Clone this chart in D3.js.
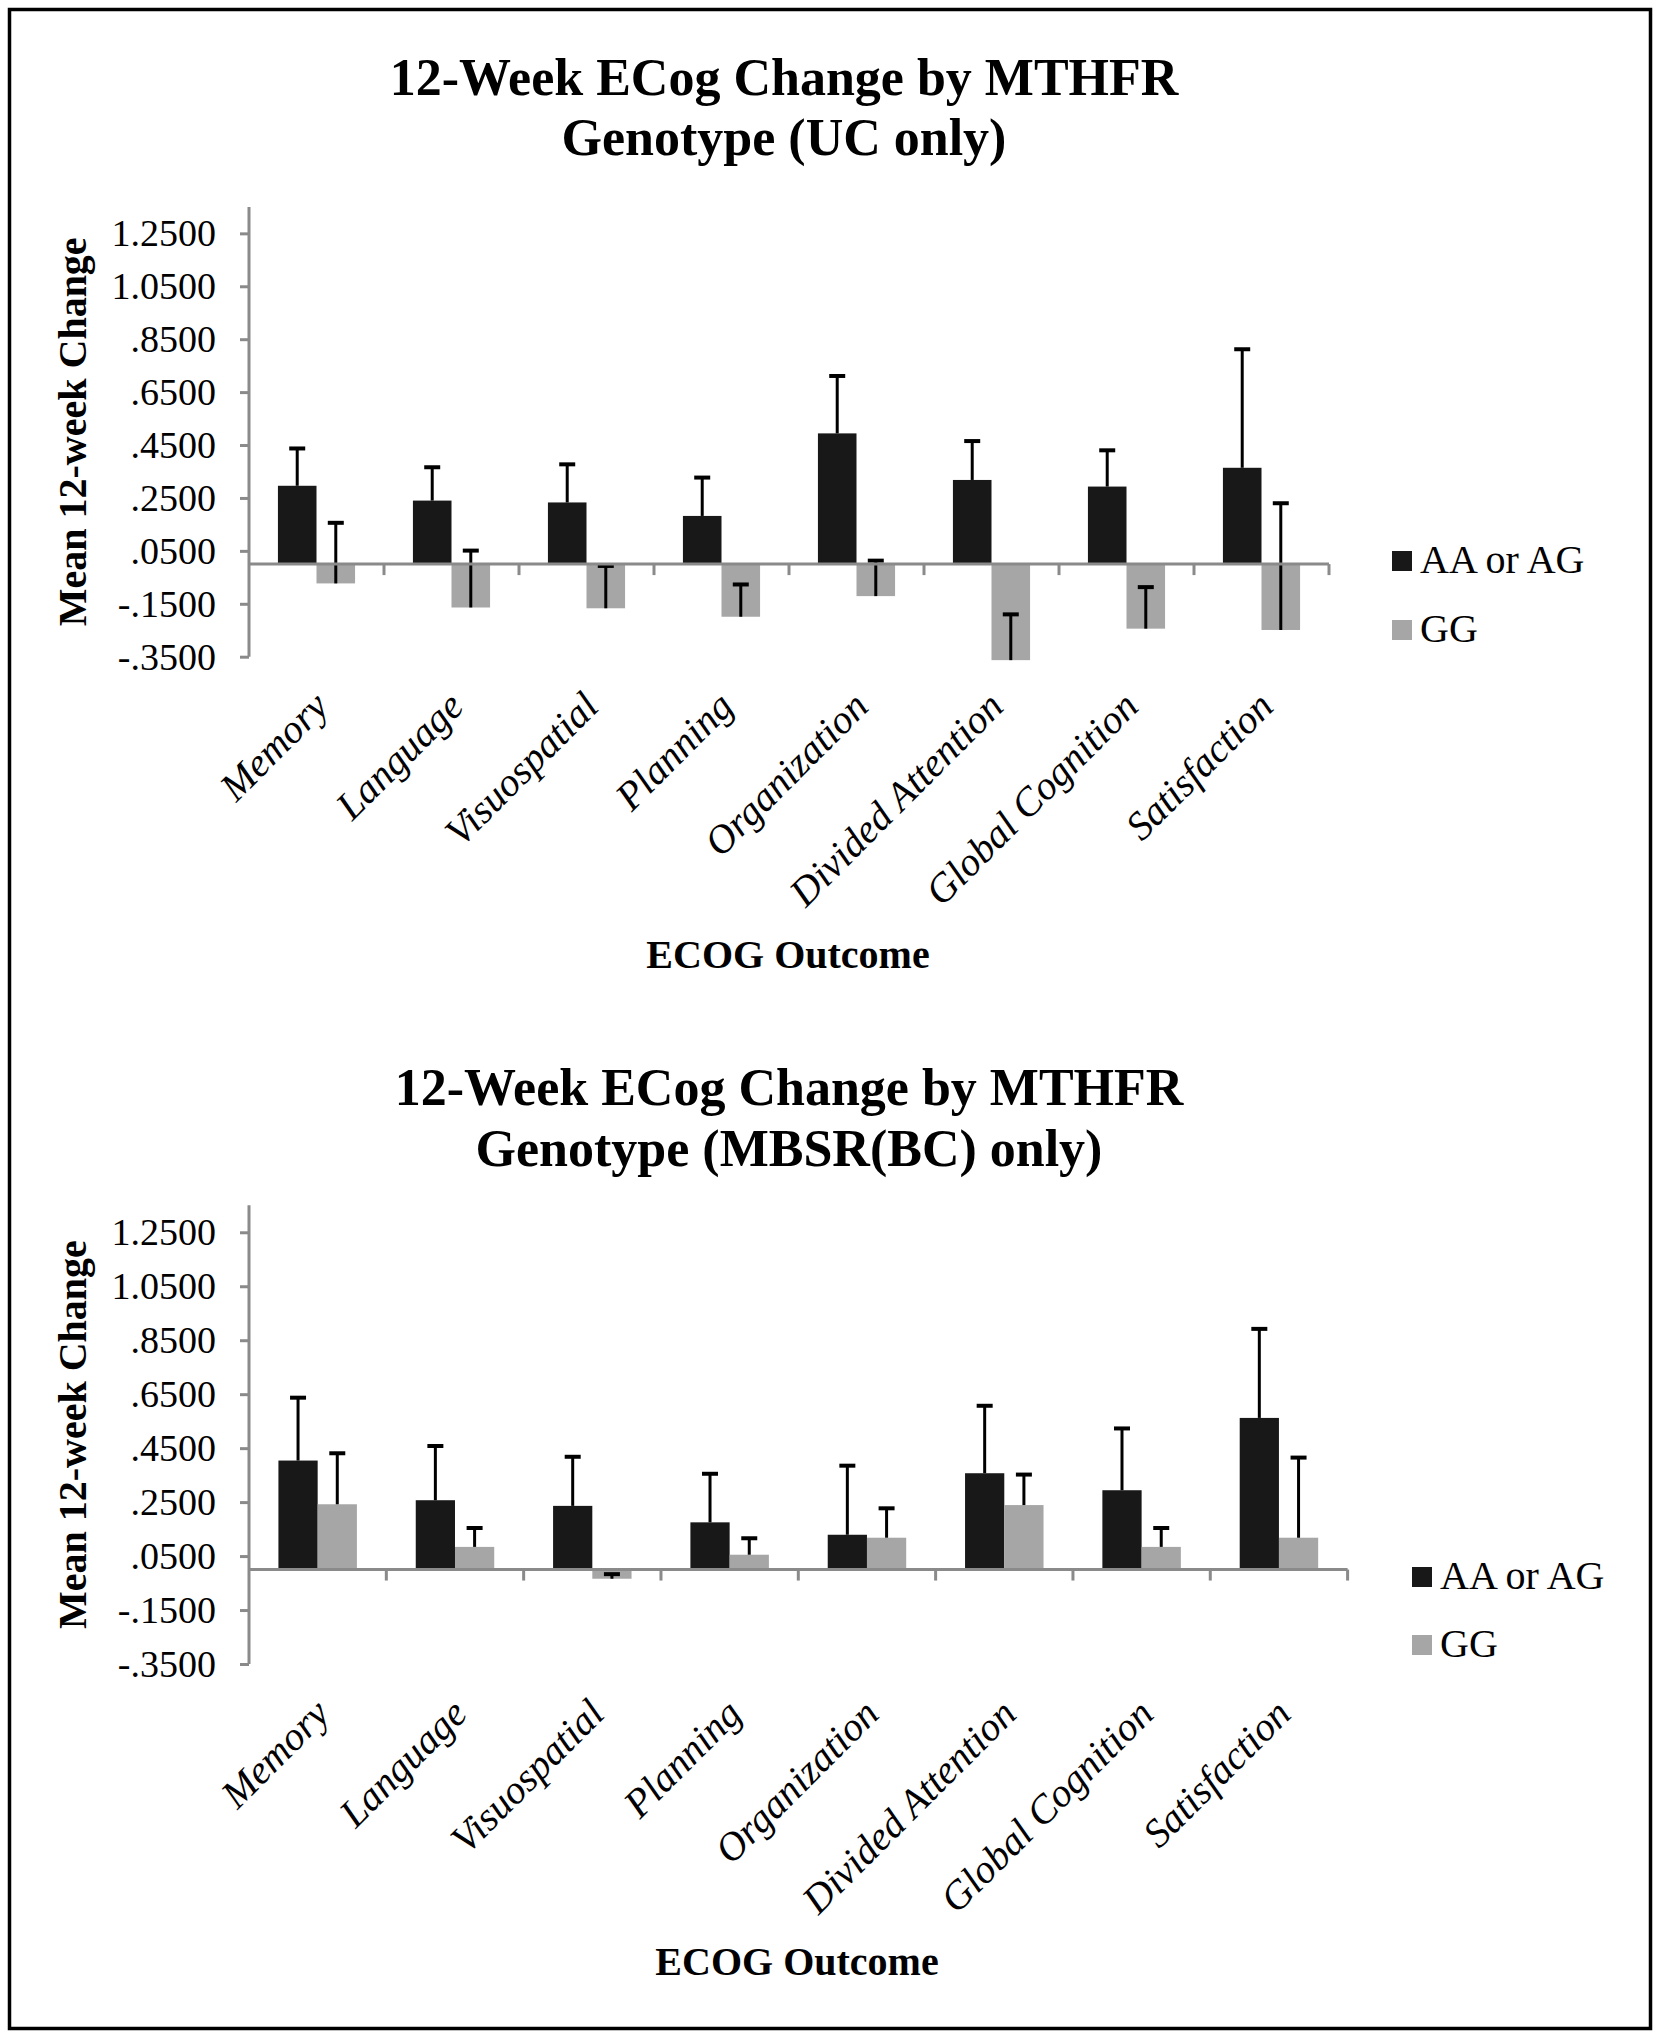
<!DOCTYPE html>
<html>
<head>
<meta charset="utf-8">
<script src="https://cdn.jsdelivr.net/npm/d3@7"></script>
<style>
  html, body { margin: 0; padding: 0; background: #fff; }
  svg { display: block; }
  text { font-family: "Liberation Serif", "Times New Roman", serif; fill: #000; }
</style>
</head>
<body>
<svg id="chart" width="1660" height="2040"></svg>
<script>
// ---------------- data ----------------
const categories = ["Memory", "Language", "Visuospatial", "Planning", "Organization",
                    "Divided Attention", "Global Cognition", "Satisfaction"];
const seriesNames = ["AA or AG", "GG"];
const yTickValues = [1.25, 1.05, 0.85, 0.65, 0.45, 0.25, 0.05, -0.15, -0.35];
const yTickLabels = ["1.2500", "1.0500", ".8500", ".6500", ".4500", ".2500", ".0500", "-.1500", "-.3500"];
const yDomain = [-0.35, 1.35];

// Panel 1: UC only
const ucTitle = ["12-Week ECog Change by MTHFR", "Genotype (UC only)"];
const ucAA    = [0.296, 0.240, 0.233, 0.182, 0.494, 0.318, 0.293, 0.364];
const ucAAErr = [0.141, 0.126, 0.144, 0.145, 0.217, 0.147, 0.137, 0.448];
const ucGG    = [-0.073, -0.164, -0.167, -0.199, -0.121, -0.363, -0.244, -0.249];
const ucGGErr = [0.229, 0.215, 0.160, 0.122, 0.134, 0.173, 0.157, 0.479];

// Panel 2: MBSR(BC) only
const mbTitle = ["12-Week ECog Change by MTHFR", "Genotype (MBSR(BC) only)"];
const mbAA    = [0.404, 0.257, 0.236, 0.175, 0.129, 0.357, 0.294, 0.562];
const mbAAErr = [0.233, 0.201, 0.182, 0.180, 0.256, 0.250, 0.229, 0.330];
const mbGG    = [0.242, 0.084, -0.034, 0.055, 0.118, 0.239, 0.084, 0.118];
const mbGGErr = [0.189, 0.070, 0.017, 0.061, 0.109, 0.113, 0.070, 0.297];

const yAxisTitle = "Mean 12-week Change";
const xAxisTitle = "ECOG Outcome";

// ---------------- styles ----------------
const colors = { "AA or AG": "#181818", "GG": "#a6a6a6" };
const axisColor = "#8a8a8a";

const svg = d3.select("#chart");

// outer frame
svg.append("rect")
  .attr("x", 9.5).attr("y", 9.5).attr("width", 1641).attr("height", 2019)
  .attr("fill", "none").attr("stroke", "#000").attr("stroke-width", 3.5);

function drawPanel(cfg) {
  const g = svg.append("g");
  const x0 = d3.scaleBand().domain(categories).range([cfg.left, cfg.right]).paddingInner(0).paddingOuter(0);
  const x1 = d3.scaleBand().domain(seriesNames).range([0, x0.bandwidth()]).paddingInner(0).paddingOuter(0.75);
  const y = d3.scaleLinear().domain(yDomain).range([cfg.bottom, cfg.top]);

  // title
  g.append("text")
    .attr("x", cfg.titleX).attr("y", cfg.titleY1)
    .attr("text-anchor", "middle").attr("font-weight", "bold").attr("font-size", 52)
    .text(cfg.title[0]);
  g.append("text")
    .attr("x", cfg.titleX).attr("y", cfg.titleY2)
    .attr("text-anchor", "middle").attr("font-weight", "bold").attr("font-size", 52)
    .text(cfg.title[1]);

  const rows = categories.map((c, i) => ({
    cat: c,
    vals: [
      { s: seriesNames[0], v: cfg.aa[i], e: cfg.aaErr[i] },
      { s: seriesNames[1], v: cfg.gg[i], e: cfg.ggErr[i] }
    ]
  }));

  // bars
  const grp = g.selectAll("g.cat").data(rows).join("g")
    .attr("class", "cat")
    .attr("transform", d => `translate(${x0(d.cat)},0)`);
  grp.selectAll("rect").data(d => d.vals).join("rect")
    .attr("x", d => x1(d.s))
    .attr("width", x1.bandwidth())
    .attr("y", d => Math.min(y(d.v), y(0)))
    .attr("height", d => Math.abs(y(d.v) - y(0)))
    .attr("fill", d => colors[d.s]);

  // y axis
  const yAxis = d3.axisLeft(y).tickValues(yTickValues)
    .tickFormat((d, i) => yTickLabels[i]).tickSize(9).tickPadding(24);
  const ya = g.append("g").attr("transform", `translate(${cfg.left},0)`).call(yAxis);
  ya.select(".domain").attr("stroke", axisColor).attr("stroke-width", 3)
    .attr("d", `M0,${y(yDomain[1])}V${y(yDomain[0])}`);
  ya.selectAll(".tick line").attr("stroke", axisColor).attr("stroke-width", 3);
  ya.selectAll(".tick text")
    .attr("font-family", "Liberation Serif, Times New Roman, serif")
    .attr("font-size", 38).attr("fill", "#000").attr("dy", "0.33em");

  // x axis at zero
  const xa = g.append("g");
  xa.append("line")
    .attr("x1", cfg.left).attr("x2", cfg.right)
    .attr("y1", y(0)).attr("y2", y(0))
    .attr("stroke", axisColor).attr("stroke-width", 3);
  const boundaries = categories.slice(1).map(c => x0(c)).concat([x0.range()[1]]);
  xa.selectAll("line.tk").data(boundaries).join("line")
    .attr("class", "tk")
    .attr("x1", d => d).attr("x2", d => d)
    .attr("y1", y(0)).attr("y2", y(0) + 11)
    .attr("stroke", axisColor).attr("stroke-width", 3);

  // error bars (plus direction)
  const eb = grp.selectAll("g.err").data(d => d.vals).join("g").attr("class", "err");
  eb.append("line")
    .attr("x1", d => x1(d.s) + x1.bandwidth() / 2)
    .attr("x2", d => x1(d.s) + x1.bandwidth() / 2)
    .attr("y1", d => y(d.v))
    .attr("y2", d => y(d.v + d.e))
    .attr("stroke", "#000").attr("stroke-width", 3);
  eb.append("line")
    .attr("x1", d => x1(d.s) + x1.bandwidth() / 2 - 8)
    .attr("x2", d => x1(d.s) + x1.bandwidth() / 2 + 8)
    .attr("y1", d => y(d.v + d.e))
    .attr("y2", d => y(d.v + d.e))
    .attr("stroke", "#000").attr("stroke-width", 4);

  // category labels
  g.selectAll("text.cl").data(categories).join("text")
    .attr("class", "cl")
    .attr("font-style", "italic").attr("font-size", 40)
    .attr("text-anchor", "end")
    .attr("transform", d => `translate(${x0(d) + x0.bandwidth() / 2 + 14},${y(yDomain[0]) + cfg.catDy}) rotate(-45)`)
    .text(d => d);

  // y axis title
  g.append("text")
    .attr("transform", `translate(${cfg.yTitleX},${(y(yDomain[0]) + y(yDomain[1])) / 2}) rotate(-90)`)
    .attr("text-anchor", "middle").attr("font-weight", "bold").attr("font-size", 40)
    .text(yAxisTitle);

  // x axis title
  g.append("text")
    .attr("x", cfg.xTitleX).attr("y", cfg.xTitleY)
    .attr("text-anchor", "middle").attr("font-weight", "bold").attr("font-size", 40)
    .text(xAxisTitle);

  // legend
  const lg = g.append("g");
  seriesNames.forEach((s, i) => {
    lg.append("rect")
      .attr("x", cfg.legX).attr("y", cfg.legY + i * cfg.legGap)
      .attr("width", 20).attr("height", 20).attr("fill", colors[s]);
    lg.append("text")
      .attr("x", cfg.legX + 28).attr("y", cfg.legY + i * cfg.legGap + 22)
      .attr("font-size", 40).text(s);
  });
}

drawPanel({
  title: ucTitle, aa: ucAA, aaErr: ucAAErr, gg: ucGG, ggErr: ucGGErr,
  left: 249, right: 1329, top: 206.9, bottom: 656.7,
  titleX: 784, titleY1: 95, titleY2: 155,
  catDy: 52, yTitleX: 86, xTitleX: 788, xTitleY: 968,
  legX: 1392, legY: 551, legGap: 69
});

drawPanel({
  title: mbTitle, aa: mbAA, aaErr: mbAAErr, gg: mbGG, ggErr: mbGGErr,
  left: 249, right: 1347.6, top: 1205.3, bottom: 1664,
  titleX: 789, titleY1: 1105, titleY2: 1166,
  catDy: 52, yTitleX: 86, xTitleX: 797, xTitleY: 1975,
  legX: 1412, legY: 1567, legGap: 68
});
</script>
</body>
</html>
